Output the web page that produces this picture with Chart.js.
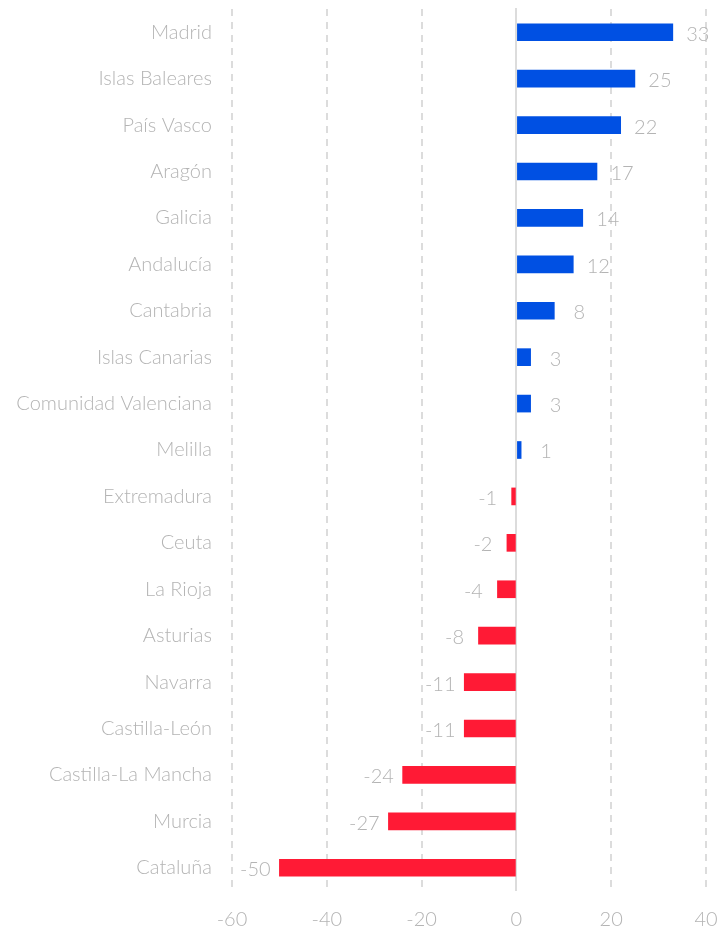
<!DOCTYPE html>
<html><head><meta charset="utf-8">
<script src="https://cdn.jsdelivr.net/npm/chart.js@4"></script>
<style>html,body{margin:0;padding:0;background:#fff}#wrap{width:718px;height:934px}</style>
</head><body><div id="wrap"><canvas id="c"></canvas></div>
<script>
const categories = ["Madrid","Islas Baleares","País Vasco","Aragón","Galicia","Andalucía","Cantabria","Islas Canarias","Comunidad Valenciana","Melilla","Extremadura","Ceuta","La Rioja","Asturias","Navarra","Castilla-León","Castilla-La Mancha","Murcia","Cataluña"];
const values = [33,25,22,17,14,12,8,3,3,1,-1,-2,-4,-8,-11,-11,-24,-27,-50];
const xTicks = [-60,-40,-20,0,20,40];
const POS = "#0050e3", NEG = "#ff1a35";
const FONT = "Lato";
const txt = "#b4b4b4";

const labelPlugin = {
  id: 'vals',
  beforeDatasetsDraw(chart){
    const {ctx, chartArea, scales:{x}} = chart;
    const px = Math.round(x.getPixelForValue(0));
    ctx.save(); ctx.strokeStyle = '#dcdcdc'; ctx.lineWidth = 2;
    ctx.beginPath(); ctx.moveTo(px, chartArea.top - 1); ctx.lineTo(px, chartArea.bottom); ctx.stroke();
    ctx.restore();
  },
  afterDatasetsDraw(chart){
    const {ctx} = chart;
    const meta = chart.getDatasetMeta(0);
    ctx.save();
    ctx.font = `300 20px ${FONT}`; ctx.fillStyle = txt;
    ctx.textAlign = 'center'; ctx.textBaseline = 'middle';
    meta.data.forEach((bar,i)=>{
      const v = values[i];
      const dx = v >= 0 ? 25 : -24;
      ctx.fillText(String(v), bar.x + dx, bar.y + 2);
    });
    ctx.restore();
  }
};

new Chart(document.getElementById('c'), {
  type: 'bar',
  data: { labels: categories, datasets: [{ data: values,
    backgroundColor: values.map(v => v >= 0 ? POS : NEG),
    barThickness: 17, borderWidth: 0 }] },
  options: {
    indexAxis: 'y', responsive: true, maintainAspectRatio: false, animation: false,
    layout: { padding: { top: 9, right: 12, left: 0, bottom: 0 } },
    plugins: { legend: { display: false }, tooltip: { enabled: false } },
    scales: {
      x: { min: -60, max: 40,
        afterBuildTicks: s => { s.ticks = xTicks.map(v => ({value: v})); },
        afterFit: s => { s.height = 43; s.paddingLeft = 0; s.paddingRight = 0; },
        grid: { color: c => (c.tick && c.tick.value === 0) ? 'rgba(0,0,0,0)' : '#dcdcdc', lineWidth: 2, drawTicks: false },
        border: { display: false, dash: [7,6] },
        ticks: { color: txt, font: { family: FONT, size: 20, weight: 300 }, padding: 17 } },
      y: {
        afterFit: s => { s.width = 232; s.paddingTop = 0; s.paddingBottom = 0; },
        grid: { display: false }, border: { display: false },
        ticks: { color: txt, font: { family: FONT, size: 20, weight: 300 }, padding: 12 } }
    }
  },
  plugins: [labelPlugin]
});
</script></body></html>
